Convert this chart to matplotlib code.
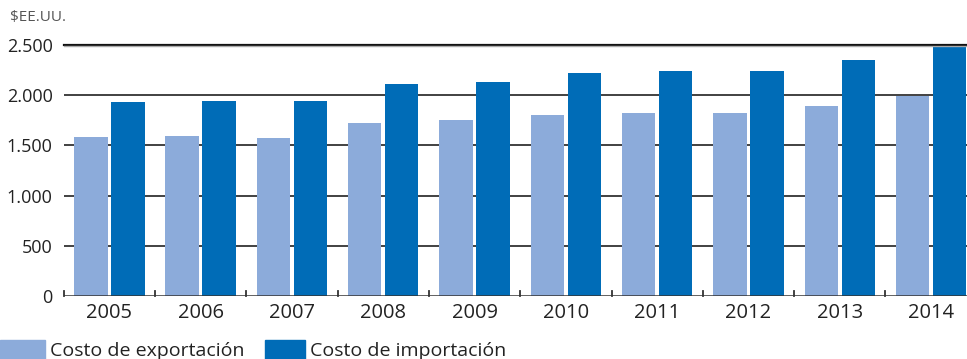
import matplotlib.pyplot as plt
import numpy as np
from matplotlib.patches import Rectangle

plt.rcParams['font.family'] = ['Open Sans', 'DejaVu Sans']

years = ['2005', '2006', '2007', '2008', '2009', '2010', '2011', '2012', '2013', '2014']
exportacion = [1580, 1590, 1570, 1720, 1750, 1800, 1820, 1820, 1890, 1990]
importacion = [1930, 1940, 1940, 2110, 2130, 2220, 2240, 2240, 2350, 2490]
yticks = [0, 500, 1000, 1500, 2000, 2500]
ytick_labels = ['0', '500', '1.000', '1.500', '2.000', '2.500']

light = '#8cabda'
dark = '#006cb7'

fig = plt.figure(figsize=(9.67, 3.59), dpi=100)
# plot area runs a little past the right edge of the figure
ax = fig.add_axes([63.7 / 967, 63 / 359, 913 / 967, 251 / 359])

x = np.arange(len(years))
w = 0.365
ax.bar(x - w / 2 - 0.02, exportacion, w, color=light, zorder=3)
ax.bar(x + w / 2 + 0.02, importacion, w, color=dark, zorder=3)

ax.set_xlim(-0.5, len(years) - 0.5)
ax.set_ylim(0, 2500)
ax.set_yticks(yticks)
ax.set_yticklabels(ytick_labels, fontsize=13, color='#222222')
ax.set_xticks(x)
ax.set_xticklabels(years, fontsize=14.5, color='#222222')
ax.tick_params(axis='y', length=0, pad=8)
ax.tick_params(axis='x', length=0, pad=5)

# gridlines
for v in yticks[1:]:
    ax.axhline(v, color='#333333', lw=1.3, zorder=1)
ax.axhline(2500, color='#111111', lw=1.6, zorder=4, clip_on=False)
ax.plot([0, 1], [0.9945, 0.9945], transform=ax.transAxes, color='#aaaaaa', lw=1, zorder=4)

# baseline with category separator ticks
ax.axhline(0, color='#333333', lw=1.8, zorder=4)
for b in np.arange(-0.5, len(years) - 0.4, 1.0):
    ax.plot([b, b], [0, 50], color='#333333', lw=1.3, zorder=4, clip_on=False)

for s in ax.spines.values():
    s.set_visible(False)

fig.text(10 / 967, 1 - 18 / 359, '$EE.UU.', fontsize=11, color='#555555', va='center', ha='left')

# legend
fig.patches.append(Rectangle((0, 0), 45 / 967, 19 / 359, transform=fig.transFigure, color=light))
fig.text(50 / 967, 8 / 359, 'Costo de exportación', fontsize=14, color='#222222', va='center', ha='left')
fig.patches.append(Rectangle((265 / 967, 0), 40 / 967, 19 / 359, transform=fig.transFigure, color=dark))
fig.text(310 / 967, 8 / 359, 'Costo de importación', fontsize=14, color='#222222', va='center', ha='left')

fig.savefig('out.png', dpi=100)
